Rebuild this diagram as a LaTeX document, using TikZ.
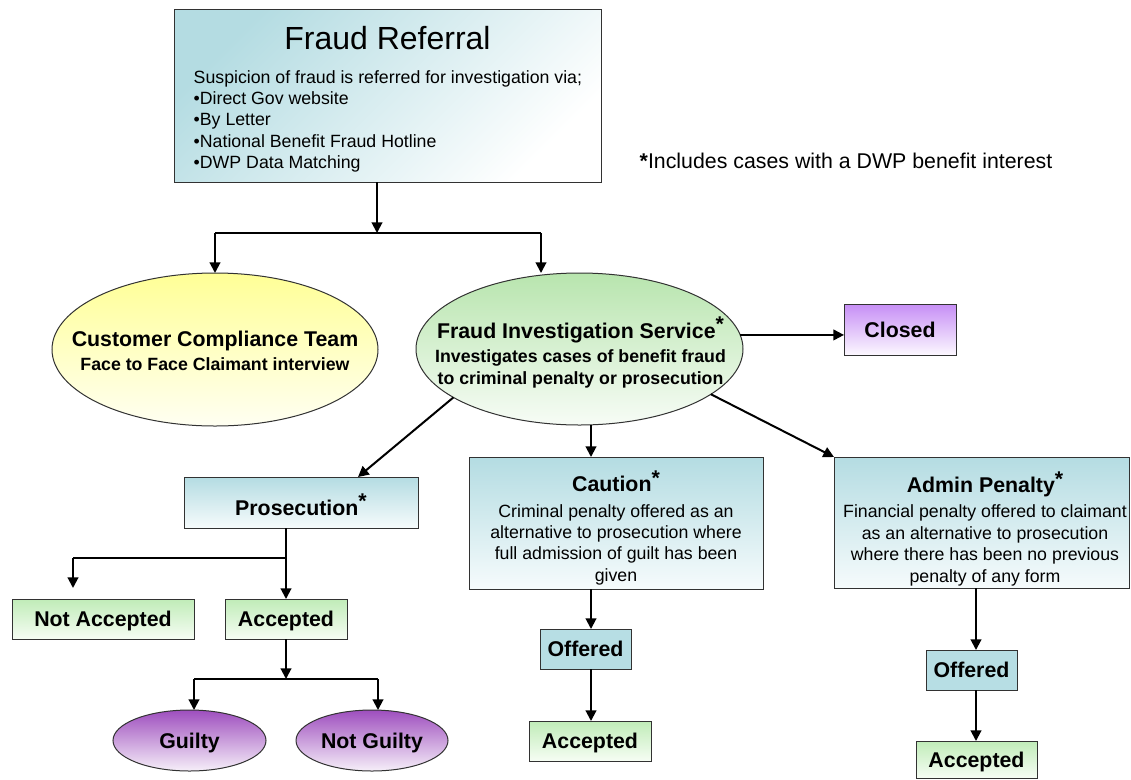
\documentclass[tikz,border=0pt]{standalone}
\usepackage{fontspec}
\setmainfont{Liberation Sans}
\usetikzlibrary{arrows.meta,calc,shapes.geometric}
\definecolor{tealtop}{RGB}{180,220,226}
\definecolor{tealbot}{RGB}{246,251,252}
\definecolor{offblue}{RGB}{183,222,228}
\definecolor{greentop}{RGB}{192,236,184}
\definecolor{greenbot}{RGB}{246,253,244}
\definecolor{fistop}{RGB}{184,229,174}
\definecolor{fisbot}{RGB}{247,252,246}
\definecolor{yeltop}{RGB}{255,255,150}
\definecolor{yelbot}{RGB}{255,255,242}
\definecolor{closetop}{RGB}{198,142,245}
\definecolor{closebot}{RGB}{252,248,255}
\definecolor{guilttop}{RGB}{158,78,190}
\definecolor{guiltbot}{RGB}{246,239,249}
\definecolor{edgegray}{RGB}{50,50,50}
\newcommand{\sast}{\raisebox{0.3em}{\bfseries *}}
\begin{document}
\begin{tikzpicture}[x=0.75pt,y=-0.75pt,
  shp/.style={draw=edgegray, line width=0.75pt, inner sep=0pt, outer sep=0pt},
  rbox/.style n args={2}{shp, rectangle, minimum width={#1*0.75pt}, minimum height={#2*0.75pt}},
  ebox/.style n args={2}{shp, ellipse, minimum width={#1*0.75pt}, minimum height={#2*0.75pt}},
  tfill/.style={top color=tealtop, bottom color=tealbot},
  frfill/.style={top color=tealtop, bottom color=white, shading angle=45},
  gfill/.style={top color=greentop, bottom color=greenbot},
  yfill/.style={top color=yeltop, bottom color=yelbot},
  fisfill/.style={top color=fistop, bottom color=fisbot},
  vfill/.style={top color=closetop, bottom color=closebot},
  pfill/.style={top color=guilttop, bottom color=guiltbot},
  ofill/.style={fill=offblue},
  lbl/.style={font=\fontsize{16}{18}\selectfont\bfseries, text height=11.5pt, text depth=0pt},
  arr/.style={line width=1.5pt, -{Triangle[length=8pt,width=8pt]}},
  ln/.style={line width=1pt}
]
\fill[white] (0,0) rectangle (1131,779);
\useasboundingbox (0,0) rectangle (1131,779);

% Fraud referral
\node[rbox={427}{173}, frfill] (fr) at (387.5,95.5) {};
\node[font=\fontsize{24}{28}\selectfont, anchor=base] (frtitle) at (387.5,49) {Fraud Referral};
\node[font=\fontsize{13.3}{16}\selectfont, align=left, anchor=base west] (frbody) at (189,168.6)
  {Suspicion of fraud is referred for investigation via;\\•Direct Gov website\\•By Letter\\•National Benefit Fraud Hotline\\•DWP Data Matching};

\node[font=\fontsize{16}{18}\selectfont, anchor=base west] (note) at (635,168) {{\bfseries *}Includes cases with a DWP benefit interest};

% ellipses
\node[ebox={326}{153}, yfill] (cct) at (215,349.5) {};
\node[align=center, font=\fontsize{16}{17.5}\selectfont\bfseries, anchor=base] (ccttext) at (215,370)
  {Customer Compliance Team\\{\fontsize{13.3}{17.5}\selectfont Face to Face Claimant interview}};

\node[ebox={327}{152}, fisfill] (fis) at (579.5,349) {};
\node[align=center, font=\fontsize{13.3}{16.5}\selectfont\bfseries, anchor=base] (fistext) at (580.5,384)
  {{\fontsize{16}{16.5}\selectfont Fraud Investigation Service\sast}\\[1.5pt]Investigates cases of benefit fraud\\to criminal penalty or prosecution};

\node[rbox={112}{51}, vfill, lbl] (closed) at (900,329.5) {Closed};

% prosecution branch
\node[rbox={234}{51}, tfill, lbl, text height=19pt] (pros) at (301,502.5) {Prosecution\sast};
\node[rbox={182}{40}, gfill, lbl] (nacc) at (103,619) {Not Accepted};
\node[rbox={122}{40}, gfill, lbl] (acc1) at (286,619) {Accepted};
\node[ebox={153}{61}, pfill, lbl] (guilty) at (189.5,740.5) {Guilty};
\node[ebox={152}{61}, pfill, lbl] (nguilty) at (372,740.5) {Not Guilty};

% caution branch
\node[rbox={294}{132}, tfill] (cau) at (616,523) {};
\node[align=center, font=\fontsize{13.3}{16}\selectfont, anchor=base] (cautext) at (616,581)
  {{\fontsize{16}{16}\selectfont\bfseries Caution\sast}\\[2.8pt]Criminal penalty offered as an\\alternative to prosecution where\\full admission of guilt has been\\given};
\node[rbox={91}{40}, ofill, lbl] (off1) at (585.5,649) {Offered};
\node[rbox={122}{40}, gfill, lbl] (acc2) at (590,741) {Accepted};

% admin branch
\node[rbox={295}{131}, tfill] (adm) at (981.5,522.5) {};
\node[align=center, font=\fontsize{13.3}{16.1}\selectfont, anchor=base] (admtext) at (985,582.1)
  {{\fontsize{16}{16.1}\selectfont\bfseries Admin Penalty\sast}\\[2.6pt]Financial penalty offered to claimant\\as an alternative to prosecution\\where there has been no previous\\penalty of any form};
\node[rbox={91}{40}, ofill, lbl] (off2) at (971.5,670) {Offered};
\node[rbox={121}{37}, gfill, lbl] (acc3) at (976.5,759.5) {Accepted};

% connectors
\coordinate (j1) at (377,233);
\coordinate (jl) at (215,233);
\coordinate (jr) at (541,233);
\draw[arr] (fr.south -| j1) -- (j1);
\draw[ln] (jl) -- (jr);
\draw[arr] (jl) -- (cct.north);
\draw[arr] (jr) -- (jr |- fis.north);
\draw[arr] (fis.5.3) -- (fis.5.3 -| closed.west);
\draw[arr] (fis.201) -- ($(pros.north)+(57,0)$);
\draw[arr] (fis.-19.3) -- (adm.north west);

\coordinate (cx) at (591,0);
\draw[arr] (fis.south -| cx) -- (cau.north -| cx);
\draw[arr] (cau.south -| cx) -- (off1.north -| cx);
\draw[arr] (off1.south -| cx) -- (acc2.north -| cx);

\coordinate (ax) at (976,0);
\draw[arr] (adm.south -| ax) -- (off2.north -| ax);
\draw[arr] (off2.south -| ax) -- (acc3.north -| ax);

\coordinate (pj) at (286,558);
\coordinate (pjl) at (73,558);
\coordinate (naend) at (73,588);
\draw[arr] (pros.south -| pj) -- (acc1.north -| pj);
\draw[ln] (pj) -- (pjl);
\draw[arr] (pjl) -- (naend);

\coordinate (gj) at (286,679);
\coordinate (gl) at (194,679);
\coordinate (gr) at (378,679);
\draw[arr] (acc1.south) -- (gj);
\draw[ln] (gl) -- (gr);
\draw[arr] (gl) -- (gl |- guilty.north);
\draw[arr] (gr) -- (gr |- nguilty.north);
\end{tikzpicture}
\end{document}
